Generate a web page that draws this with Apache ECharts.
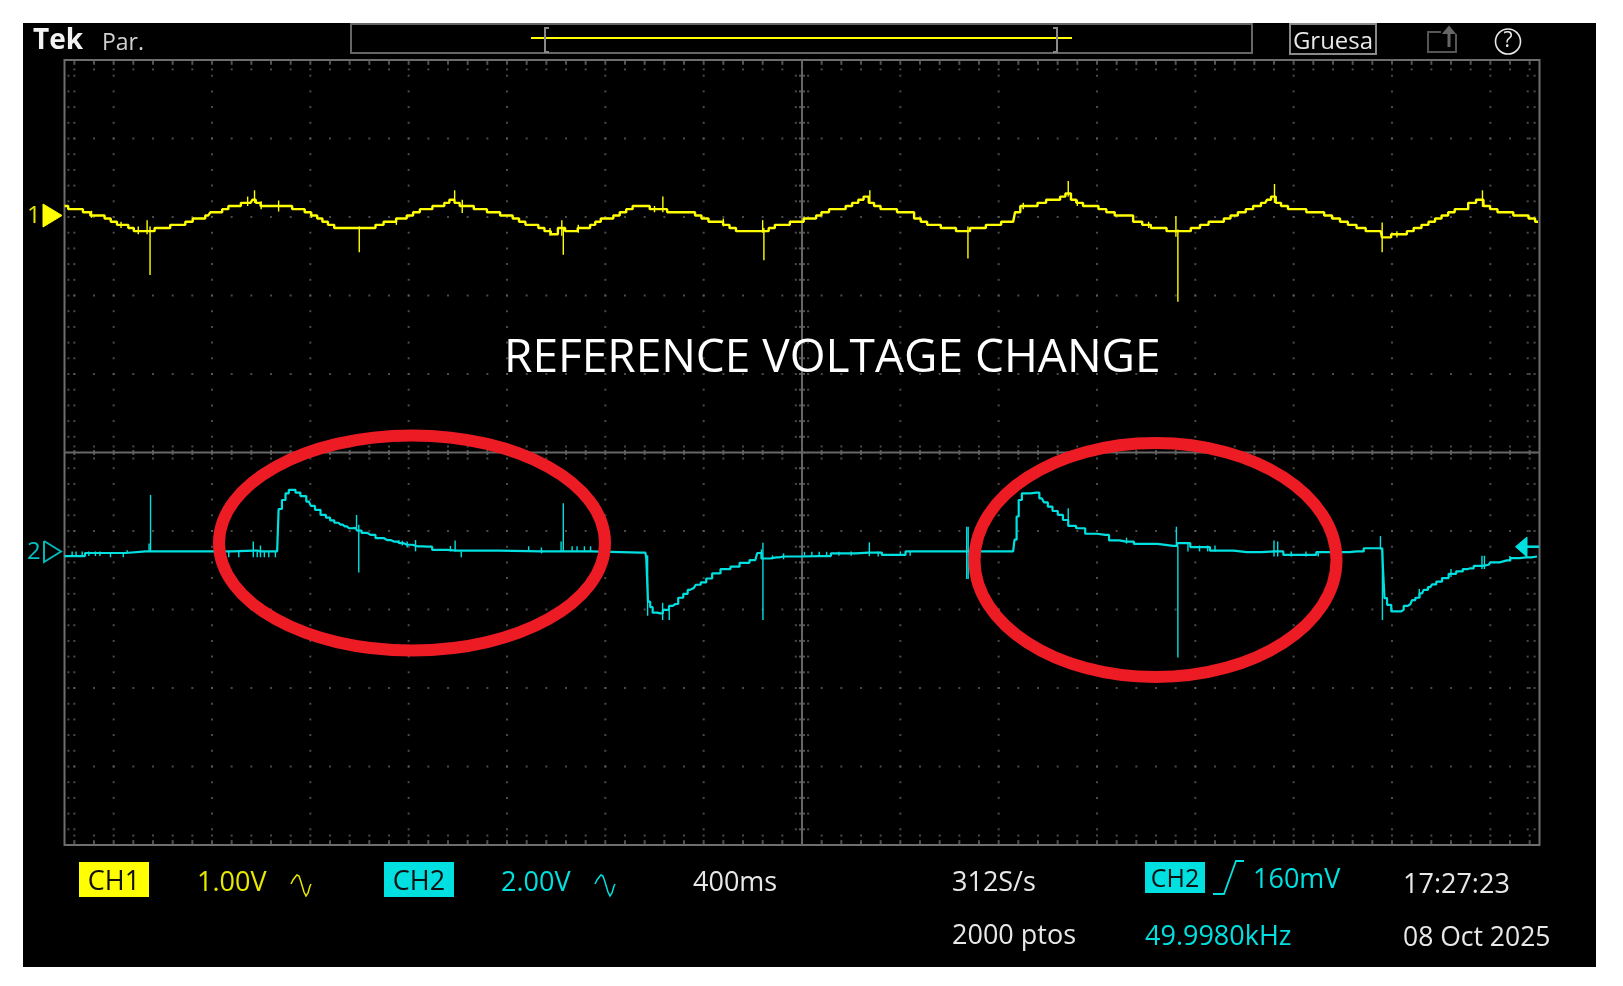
<!DOCTYPE html>
<html><head><meta charset="utf-8"><title>REFERENCE VOLTAGE CHANGE</title>
<style>html,body{margin:0;padding:0;background:#fff}#c{width:1623px;height:986px}</style>
<script src="https://cdn.jsdelivr.net/npm/echarts@6/dist/echarts.min.js"></script>
</head><body><div id="c"></div>
<script>
// time in ms (400 ms/div, 15 div); volts relative to each channel's ground marker
const ch1Trace=[[0,.12],[30,.08],[60,.08],[90,.04],[120,0],[150,0],[176,-.04],[200,-.08],[227,-.12],[250,-.12],[269,-.16],[295,-.2],[320,-.2],[350,-.2],[383,-.16],[415,-.16],[445,-.12],[475,-.12],[508,-.08],[535,-.04],[560,-.04],[585,0],[601,.04],[630,.04],[653,.08],[680,.12],[705,.12],[730,.16],[757,.16],[771,.2],[785,.16],[810,.12],[840,.12],[871,.12],[912,.12],[940,.08],[964,.08],[990,.04],[1016,0],[1040,-.04],[1058,-.08],[1085,-.12],[1109,-.16],[1151,-.16],[1192,-.16],[1244,-.16],[1286,-.12],[1310,-.08],[1338,-.08],[1360,-.04],[1379,-.04],[1405,0],[1431,.04],[1460,.08],[1483,.08],[1510,.12],[1535,.12],[1555,.16],[1576,.2],[1597,.16],[1618,.12],[1650,.12],[1680,.08],[1705,.08],[1732,.04],[1760,.04],[1784,0],[1810,0],[1836,-.04],[1862,-.08],[1888,-.12],[1915,-.12],[1940,-.16],[1965,-.2],[1991,-.24],[2023,-.16],[2050,-.2],[2075,-.2],[2100,-.16],[2126,-.16],[2150,-.12],[2168,-.08],[2195,-.04],[2220,-.04],[2245,0],[2272,.04],[2298,.08],[2324,.12],[2365,.12],[2396,.08],[2434,.08],[2469,.04],[2510,.04],[2552,.04],[2578,0],[2604,-.04],[2635,-.08],[2666,-.08],[2692,-.12],[2718,-.16],[2745,-.2],[2770,-.2],[2832,-.2],[2855,-.2],[2874,-.16],[2905,-.12],[2936,-.12],[2965,-.08],[2994,-.08],[3020,-.04],[3047,-.04],[3068,0],[3090,.04],[3130,.08],[3165,.08],[3190,.12],[3218,.16],[3240,.2],[3261,.24],[3282,.16],[3304,.12],[3335,.08],[3368,.08],[3405,.04],[3442,.04],[3470,-.04],[3496,-.08],[3522,-.12],[3549,-.12],[3580,-.16],[3613,-.16],[3640,-.2],[3667,-.2],[3700,-.16],[3731,-.16],[3765,-.12],[3795,-.12],[3825,-.08],[3859,-.08],[3874,.04],[3902,.12],[3940,.12],[3976,.16],[4010,.2],[4040,.2],[4060,.24],[4083,.28],[4105,.2],[4126,.16],[4160,.12],[4190,.12],[4222,.08],[4254,.04],[4290,0],[4329,0],[4365,-.08],[4403,-.12],[4435,-.16],[4467,-.16],[4499,-.2],[4563,-.2],[4600,-.16],[4638,-.12],[4670,-.08],[4702,-.08],[4730,-.04],[4756,0],[4790,.04],[4820,.08],[4850,.12],[4884,.16],[4900,.2],[4916,.24],[4938,.16],[4959,.12],[4995,.08],[5033,.08],[5070,.04],[5108,.04],[5140,0],[5172,-.04],[5205,-.08],[5236,-.12],[5275,-.16],[5311,-.2],[5354,-.2],[5365,-.28],[5428,-.24],[5450,-.24],[5471,-.2],[5505,-.16],[5535,-.12],[5562,-.08],[5588,-.04],[5615,0],[5642,.04],[5668,.08],[5695,.08],[5725,.16],[5759,.2],[5785,.12],[5813,.08],[5845,.04],[5877,.04],[5910,0],[5941,0],[5970,-.04],[5994,-.08]];
const ch2Trace=[[0,-.12],[167,-.04],[330,0],[350,0],[594,0],[770,.02],[797,0],[865,0],[877,1.08],[892,1.31],[906,1.48],[919,1.57],[933,1.57],[946,1.5],[973,1.41],[994,1.27],[1010,1.16],[1028,1.06],[1055,.93],[1072,.86],[1089,.79],[1106,.73],[1123,.68],[1140,.64],[1157,.59],[1184,.6],[1197,.53],[1220,.47],[1245,.42],[1285,.34],[1312,.29],[1340,.25],[1365,.21],[1394,.17],[1435,.13],[1475,.12],[1516,.04],[1597,.02],[1940,0],[2343,-.03],[2363,-.03],[2370,-.17],[2377,-1.28],[2388,-1.42],[2397,-1.56],[2424,-1.58],[2444,-1.49],[2474,-1.39],[2485,-1.34],[2508,-1.18],[2526,-1.08],[2544,-.98],[2560,-.93],[2576,-.85],[2600,-.79],[2621,-.69],[2648,-.56],[2689,-.45],[2729,-.39],[2763,-.29],[2810,-.22],[2826,-.04],[2845,-.18],[2896,-.15],[2923,-.13],[3070,-.12],[3165,-.05],[3272,-.03],[3378,-.09],[3464,0],[3656,0],[3859,0],[3870,.3],[3876,.89],[3887,1.31],[3902,1.48],[3955,1.5],[3976,1.35],[3992,1.25],[4008,1.14],[4030,1.03],[4051,.93],[4072,.8],[4094,.65],[4136,.59],[4168,.45],[4233,.42],[4265,.28],[4318,.25],[4382,.19],[4510,.14],[4542,.21],[4617,.11],[4702,.02],[4809,-.02],[4926,0],[4990,-.09],[5194,-.02],[5258,0],[5312,.08],[5360,.08],[5366,-.4],[5373,-1.19],[5387,-1.36],[5407,-1.53],[5436,-1.53],[5441,-1.49],[5454,-1.39],[5475,-1.34],[5488,-1.24],[5502,-1.18],[5522,-1.07],[5536,-.98],[5556,-.91],[5570,-.84],[5590,-.77],[5617,-.68],[5644,-.57],[5678,-.51],[5698,-.45],[5719,-.43],[5746,-.37],[5793,-.34],[5807,-.28],[5868,-.23],[5895,-.17],[5943,-.15],[5990,-.13]];
// [time, low, high] glitches
const ch1Spikes=[[336,-.24,-.06],[348,-.76,-.14],[773,.16,.32],[871,.05,.19],[1199,-.47,-.14],[1587,.2,.32],[1618,.03,.2],[2023,-.26,-.06],[2029,-.5,-.16],[2434,.04,.24],[2840,-.22,-.06],[2845,-.57,-.16],[3276,.16,.32],[3675,-.55,-.14],[4083,.24,.44],[4521,-.27,-.01],[4529,-1.1,-.18],[4922,.16,.4],[5360,-.47,-.09],[5768,.11,.32],[110,-.03,.06],[230,-.16,-.08],[300,-.24,-.14],[745,.12,.24],[800,.08,.18],[1005,-.03,.04],[1350,-.12,-.04],[1975,-.26,-.16],[2090,-.22,-.12],[2400,.04,.12],[2680,-.14,-.04],[3900,.08,.16],[4120,.12,.2],[4410,-.16,-.08],[5420,-.28,-.2]];
const ch2Spikes=[[31,-.12,0],[47,-.12,0],[72,-.12,0],[99,-.12,0],[126,-.12,0],[144,-.12,0],[187,-.15,-.03],[239,-.15,-.03],[255,-.03,.03],[344,0,.2],[350,0,1.44],[668,-.15,0],[709,-.15,0],[768,-.15,.25],[784,-.15,0],[797,-.15,.15],[813,-.15,0],[831,-.15,0],[858,-.15,0],[1188,.6,.93],[1197,-.54,.68],[1360,.2,.29],[1374,.15,.27],[1394,.1,.25],[1428,0,.29],[1570,0,.14],[1589,0,.28],[1614,-.15,0],[1888,0,.13],[1940,-.05,.1],[2020,0,.25],[2029,0,1.23],[2065,0,.13],[2085,0,.13],[2115,0,.13],[2140,0,.13],[2372,-1.64,-.1],[2433,-1.75,-1.31],[2460,-1.75,-1.5],[2841,-1.75,.22],[2835,-.2,.05],[2880,-.2,-.1],[2925,-.2,-.05],[3010,-.11,-.01],[3040,-.11,-.01],[3070,-.11,-.01],[3100,-.11,-.01],[3150,-.11,-.01],[3200,-.11,0],[3274,-.12,.23],[3310,-.13,0],[3400,-.11,0],[3440,-.11,0],[3670,-.7,.63],[3676,-.7,.63],[4083,.8,1.1],[4320,.2,.35],[4523,.14,.63],[4529,-2.7,.14],[4570,0,.2],[4617,0,.15],[4650,0,.15],[4680,0,.15],[4920,-.13,.28],[4935,-.13,.25],[4990,-.13,0],[5050,-.13,0],[5100,-.13,0],[5353,.05,.39],[5361,-1.75,.08],[5511,-1.19,-.96],[5640,-.65,-.45],[5766,-.45,-.11],[5776,-.45,-.11],[5880,-.25,-.12]];

// screen graticule: 15 horizontal, 10 vertical divisions, 5 minor per division, centre at 3000 ms
const majorTimes=[200,600,1000,1400,1800,2200,2600,3000,3400,3800,4200,4600,5000,5400,5800];
const minorTimes=[40,120,200,280,360,440,520,600,680,760,840,920,1000,1080,1160,1240,1320,1400,1480,1560,1640,1720,1800,1880,1960,2040,2120,2200,2280,2360,2440,2520,2600,2680,2760,2840,2920,3000,3080,3160,3240,3320,3400,3480,3560,3640,3720,3800,3880,3960,4040,4120,4200,4280,4360,4440,4520,4600,4680,4760,4840,4920,5000,5080,5160,5240,5320,5400,5480,5560,5640,5720,5800,5880,5960];
const majorDivs=[-4,-3,-2,-1,1,2,3,4];
const minorDivs=[-4.8,-4.6,-4.4,-4.2,-4,-3.8,-3.6,-3.4,-3.2,-3,-2.8,-2.6,-2.4,-2.2,-2,-1.8,-1.6,-1.4,-1.2,-1,-0.8,-0.6,-0.4,-0.2,0,0.2,0.4,0.6,0.8,1,1.2,1.4,1.6,1.8,2,2.2,2.4,2.6,2.8,3,3.2,3.4,3.6,3.8,4,4.2,4.4,4.6,4.8];

const gridGray='#666666', dotGray='#5c5c5c';
const dots=[], vTicks=[], hTicks=[];
majorTimes.forEach(t=>minorDivs.forEach(d=>dots.push([t,d])));
majorDivs.forEach(d=>minorTimes.forEach(t=>dots.push([t,d])));
minorDivs.forEach(d=>{dots.push([16,d],[40,d],[5952,d],[5980,d]);});
minorTimes.forEach(t=>{
  dots.push([t,4.88],[t,-4.88],[t,0.077],[t,-0.077]);
  vTicks.push([t,4.97],[t,-4.97],[t,0]);
});
minorDivs.forEach(d=>{
  dots.push([2975,d],[3025,d]);
  hTicks.push([3000,d]);
});
const spike=(color,w)=>(params,api)=>{
  const a=api.coord([api.value(0),api.value(1)]), b=api.coord([api.value(0),api.value(2)]);
  return {type:'line',shape:{x1:a[0],y1:a[1],x2:b[0],y2:b[1]},style:{stroke:color,lineWidth:w}};
};
const yel='#ffff00', cy='#00e0e0';
const font=(s,b)=>(b?'bold ':'')+s+'px "Open Sans"';
const txt=(text,x,y,size,fill,align,bold)=>({type:'text',z:20,silent:true,style:{text,x,y,font:font(size,bold),fill,textAlign:align||'left',textVerticalAlign:'middle'}});
const rect=(x,y,w,h,fill,stroke,lw,z)=>({type:'rect',z:z===undefined?5:z,silent:true,shape:{x,y,width:w,height:h},style:{fill:fill||'transparent',stroke:stroke||'transparent',lineWidth:lw||0}});
const poly=(pts,stroke,lw,fill)=>({type:fill?'polygon':'polyline',z:20,silent:true,shape:{points:pts},style:{fill:fill||'transparent',stroke,lineWidth:lw}});
const sine=dx=>poly([[291,884],[293,880],[296,876],[297,875],[299,876],[301,882],[304,892],[306,896],[308,893],[310,886],[311,884]].map(p=>[p[0]+dx,p[1]]),dx?cy:'#e8e800',1.5);
const ell=(cx,cy0,rx,ry)=>({type:'ellipse',z:30,silent:true,shape:{cx,cy:cy0,rx,ry},style:{fill:'transparent',stroke:'#ed1c24',lineWidth:12}});

const chart=echarts.init(document.getElementById('c'));
chart.setOption({
  backgroundColor:'#ffffff',animation:false,
  grid:{left:64.5,top:60,width:1475,height:785,show:true,borderColor:'#6e6e6e',borderWidth:2,backgroundColor:'#000'},
  xAxis:{type:'value',min:0,max:6000,show:false},
  yAxis:[
    {type:'value',min:-8.02,max:1.98,show:false},   // CH1 1.00 V/div
    {type:'value',min:-7.48,max:12.52,show:false},  // CH2 2.00 V/div
    {type:'value',min:-5,max:5,show:false}          // divisions
  ],
  series:[
    {type:'scatter',yAxisIndex:2,silent:true,z:1,symbol:'rect',symbolSize:[2,2],itemStyle:{color:dotGray},data:dots},
    {type:'scatter',yAxisIndex:2,silent:true,z:1,symbol:'rect',symbolSize:[2,5],itemStyle:{color:gridGray},data:vTicks},
    {type:'scatter',yAxisIndex:2,silent:true,z:1,symbol:'rect',symbolSize:[6,2],itemStyle:{color:gridGray},data:hTicks},
    {type:'line',yAxisIndex:2,silent:true,z:1,symbol:'none',lineStyle:{color:gridGray,width:2},data:[[0,0],[6000,0]]},
    {type:'line',yAxisIndex:2,silent:true,z:1,symbol:'none',lineStyle:{color:gridGray,width:2},data:[[3000,-5],[3000,5]]},
    {name:'CH1',type:'line',yAxisIndex:0,step:'middle',symbol:'none',z:3,lineStyle:{color:yel,width:2.4},data:ch1Trace},
    {name:'CH1 glitches',type:'custom',yAxisIndex:0,z:3,silent:true,renderItem:spike(yel,1.4),encode:{x:0,y:[1,2]},data:ch1Spikes},
    {name:'CH2',type:'line',yAxisIndex:1,step:'middle',symbol:'none',z:3,lineStyle:{color:cy,width:2.2},data:ch2Trace},
    {name:'CH2 glitches',type:'custom',yAxisIndex:1,z:3,silent:true,renderItem:spike(cy,1.4),encode:{x:0,y:[1,2]},data:ch2Spikes}
  ],
  graphic:[
    rect(23,23,1573,944,'#000',null,0,-1),
    txt('Tek',33,41,28,'#f2f2f2','left',true),
    txt('Par.',102,43,23,'#d0d0d0'),
    rect(351,24,901,29,null,'#666',2),
    poly([[531,38],[1072,38]],'#ffff00',2),
    poly([[549,28],[545,28],[545,52],[549,52]],'#888',2),
    poly([[1053,28],[1057,28],[1057,52],[1053,52]],'#888',2),
    rect(1290,24,86,30,null,'#8a8a8a',2),
    txt('Gruesa',1333,42,24,'#e8e8e8','center'),
    poly([[1441,32],[1428,32],[1428,52],[1456,52],[1456,34]],'#555',2),
    poly([[1449,47],[1449,30]],'#666',3),
    poly([[1444,33],[1449,27],[1454,33]],'#666',2,'#666'),
    {type:'circle',z:20,silent:true,shape:{cx:1508,cy:41.5,r:12.5},style:{fill:'transparent',stroke:'#e8e8e8',lineWidth:1.6}},
    txt('?',1508,41,21,'#e8e8e8','center'),
    txt('1',27,216,24,'#e6e600'),
    poly([[43,204],[62,215.5],[43,227]],'#ffff00',1,'#ffff00'),
    txt('2',27,552,24,'#00c0c0'),
    poly([[44,541],[61,551.5],[44,562],[44,541]],'#00b8b8',2),
    poly([[1515.5,546.7],[1527,537],[1527,557]],cy,1,cy),
    poly([[1524,546.7],[1539,546.7]],cy,2.5),
    txt('REFERENCE VOLTAGE CHANGE',504,359,46,'#ffffff'),
    rect(79,862,70,35,yel,null,0,10),
    txt('CH1',114,882,27,'#111','center'),
    txt('1.00V',197,883,27,'#e8e800'),
    sine(0),
    rect(384,862,70,35,cy,null,0,10),
    txt('CH2',419,882,27,'#111','center'),
    txt('2.00V',501,883,27,cy),
    sine(304),
    txt('400ms',693,883,27,'#e8e8e8'),
    txt('312S/s',952,883,27,'#e8e8e8'),
    txt('2000 ptos',952,936,27,'#e8e8e8'),
    rect(1145,862,60,31,cy,null,0,10),
    txt('CH2',1175,880,25,'#111','center'),
    poly([[1213,894],[1224,894],[1236,861],[1244,861]],cy,1.8),
    txt('160mV',1253,880,27,cy),
    txt('49.9980kHz',1145,937,27,cy),
    txt('17:27:23',1403,885,27,'#e8e8e8'),
    txt('08 Oct 2025',1403,938,26.5,'#e8e8e8'),
    ell(412,543,193,107.5),
    ell(1155.5,560,181,117)
  ]
});
</script></body></html>
